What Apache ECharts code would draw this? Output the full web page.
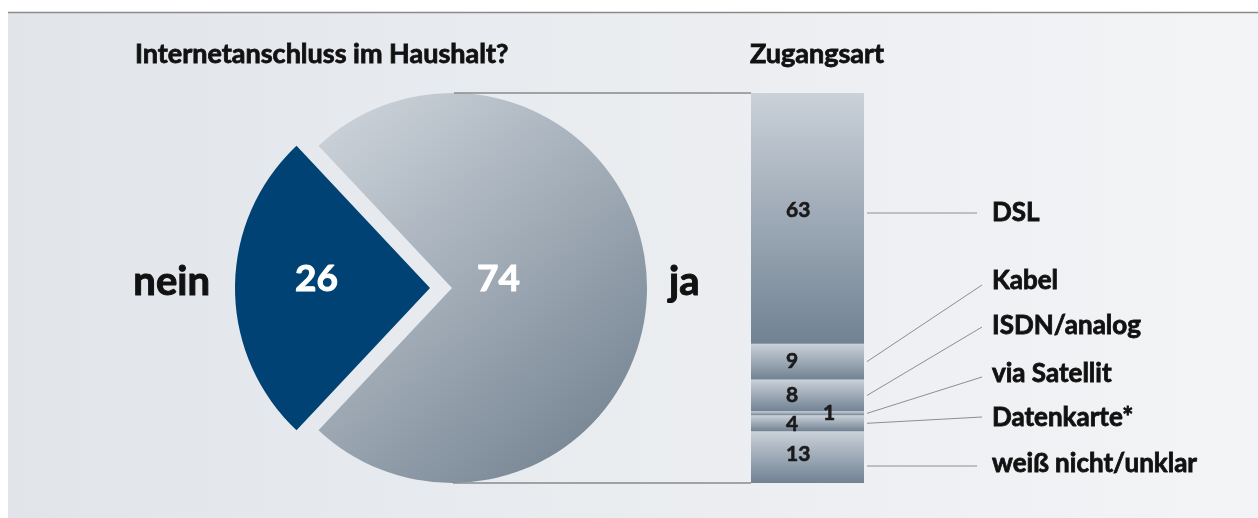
<!DOCTYPE html>
<html>
<head>
<meta charset="utf-8">
<script src="https://cdn.jsdelivr.net/npm/echarts@6/dist/echarts.min.js"></script>
<style>
  html, body { margin: 0; padding: 0; background: #fff; }
  #main { width: 1258px; height: 518px; }
</style>
</head>
<body>
<div id="main"></div>
<script type="text/javascript">

    // Daten (Prozent)
    var pieNames = ['ja', 'nein'];
    var pieValues = [74, 26];

    // Zugangsart, von oben nach unten
    var accessNames = ['DSL', 'Kabel', 'ISDN/analog', 'via Satellit', 'Datenkarte*', 'weiß nicht/unklar'];
    var accessValues = [63, 9, 8, 1, 4, 13];

    var titleLeft = 'Internetanschluss im Haushalt?';
    var titleRight = 'Zugangsart';

    // Layout
    var pieCenter = [452, 288];
    var pieRadius = 195;
    var nameX = 992;
    var nameY = [213, 281, 326, 374, 418, 464];
    var lineY = [213, 285, 327, 377, 417, 466];
    var flatLine = [true, false, false, false, false, true];
    var numOffset = [[0, -8], [0, 0], [0, 0], [37, 0], [0, 1], [0, -3]];
    var FONT = 'Lato';
    var INK = '#111';

    var myChart = echarts.init(document.getElementById('main'));

    var total = 0;
    for (var i = 0; i < accessValues.length; i++) total += accessValues[i];

    // Mitte jedes Segments (gestapelt von unten)
    function midOf(i) {
        var below = 0;
        for (var j = i + 1; j < accessValues.length; j++) below += accessValues[j];
        return below + accessValues[i] / 2;
    }

    function segGrad() {
        return new echarts.graphic.LinearGradient(0, 0, 0, 1, [
            {offset: 0, color: '#cad1d9'},
            {offset: 1, color: '#718293'}
        ]);
    }

    // Balken-Serien: unten zuerst
    var barSeries = [];
    for (var k = accessValues.length - 1; k >= 0; k--) {
        barSeries.push({
            type: 'bar',
            name: accessNames[k],
            stack: 'zugang',
            barWidth: '100%',
            data: [accessValues[k]],
            itemStyle: {color: segGrad()},
            label: {
                show: true,
                position: 'insideLeft',
                distance: 35,
                offset: numOffset[k],
                formatter: '{c}',
                color: '#1a1a1a',
                textBorderColor: '#1a1a1a',
                textBorderWidth: 0.6,
                fontFamily: FONT,
                fontWeight: 'bold',
                fontSize: 21
            },
            silent: true
        });
    }

    var pieStart = 180 - pieValues[1] / (pieValues[0] + pieValues[1]) * 180;

    var numLabelJa = {offset: [-54, -9]};
    var numLabelNein = {offset: [-13, -9]};
    var nameLabel = {offset: [0, -6]};

    var option = {
        animation: false,
        backgroundColor: '#fff',
        graphic: [
            {
                type: 'rect', z: -10,
                shape: {x: 8, y: 13, width: 1250, height: 505},
                style: {fill: new echarts.graphic.LinearGradient(0, 0, 1, 0, [
                    {offset: 0, color: '#e1e5ea'},
                    {offset: 1, color: '#f3f4f6'}
                ])}
            },
            {
                type: 'line', z: -9,
                shape: {x1: 8, y1: 12.5, x2: 1258, y2: 12.5},
                style: {stroke: '#8a8a8a', lineWidth: 1.5}
            },
            {
                type: 'text', x: 135, y: 54,
                style: {text: titleLeft, font: 'bold 27px ' + FONT, fill: INK, stroke: INK, lineWidth: 0.8,
                    verticalAlign: 'middle'}
            },
            {
                type: 'text', x: 750, y: 54,
                style: {text: titleRight, font: 'bold 27px ' + FONT, fill: INK, stroke: INK, lineWidth: 0.8,
                    verticalAlign: 'middle'}
            }
        ],
        grid: {left: 751, top: 93, width: 113, height: 390},
        xAxis: {type: 'category', data: [titleRight], show: false},
        yAxis: {type: 'value', min: 0, max: total, show: false},
        series: [
            {
                type: 'pie',
                center: pieCenter,
                radius: pieRadius,
                startAngle: pieStart,
                selectedMode: 'single',
                selectedOffset: 22,
                avoidLabelOverlap: false,
                silent: true,
                label: {
                    show: true,
                    position: 'inside',
                    formatter: '{c}',
                    color: '#fff',
                    textBorderColor: '#fff',
                    textBorderWidth: 1,
                    fontFamily: FONT,
                    fontWeight: 'bold',
                    fontSize: 37
                },
                data: [
                    {
                        name: pieNames[0], value: pieValues[0],
                        itemStyle: {color: new echarts.graphic.LinearGradient(0, 0, 1, 1, [
                            {offset: 0, color: '#d0d6dd'},
                            {offset: 1, color: '#6c7c8b'}
                        ])},
                        label: numLabelJa
                    },
                    {
                        name: pieNames[1], value: pieValues[1], selected: true,
                        itemStyle: {color: '#004274'},
                        label: numLabelNein,
                        select: {label: numLabelNein, itemStyle: {color: '#004274'}}
                    }
                ]
            },
            {
                // nur Beschriftung ja / nein
                type: 'pie',
                center: pieCenter,
                radius: pieRadius,
                startAngle: pieStart,
                selectedMode: 'single',
                selectedOffset: 22,
                avoidLabelOverlap: false,
                silent: true,
                itemStyle: {color: 'rgba(0,0,0,0)'},
                label: {
                    show: true,
                    position: 'outside',
                    formatter: '{b}',
                    color: INK,
                    textBorderColor: INK,
                    textBorderWidth: 1,
                    fontFamily: FONT,
                    fontWeight: 'bold',
                    fontSize: 40,
                    offset: [0, -6]
                },
                labelLine: {show: false, length: 0, length2: 17},
                data: [
                    {name: pieNames[0], value: pieValues[0]},
                    {name: pieNames[1], value: pieValues[1], selected: true,
                        labelLine: {show: false, length: 0, length2: 20},
                        select: {label: nameLabel, itemStyle: {color: 'rgba(0,0,0,0)'}}}
                ]
            }
        ].concat(barSeries).concat([
            {
                type: 'custom',
                coordinateSystem: 'cartesian2d',
                silent: true,
                clip: false,
                z: 5,
                data: accessNames.map(function (n, i) { return [0, midOf(i)]; }),
                renderItem: function (params, api) {
                    var i = params.dataIndex;
                    var p = api.coord([api.value(0), api.value(1)]);
                    var half = api.size([1, 0])[0] / 2;
                    var x0 = p[0] + half + 3;
                    var y0 = flatLine[i] ? lineY[i] : p[1];
                    var children = [
                        {
                            type: 'line',
                            shape: {x1: x0, y1: y0, x2: nameX - (flatLine[i] ? 15 : 10), y2: lineY[i]},
                            style: {stroke: '#8e8e8e', lineWidth: 1}
                        },
                        {
                            type: 'text', x: nameX, y: nameY[i],
                            style: {text: accessNames[i], font: 'bold 26px ' + FONT, fill: INK,
                                stroke: INK, lineWidth: 0.8, align: 'left', verticalAlign: 'middle'}
                        }
                    ];
                    if (i === 0) {
                        // Verbindung Kreis -> Balken
                        var top = api.coord([0, total]);
                        var bot = api.coord([0, 0]);
                        var left = p[0] - half;
                        children.push({type: 'line', shape: {x1: pieCenter[0] + 2, y1: top[1], x2: left, y2: top[1]},
                            style: {stroke: '#8a8a8a', lineWidth: 1.3}});
                        children.push({type: 'line', shape: {x1: pieCenter[0] + 1, y1: bot[1], x2: left, y2: bot[1]},
                            style: {stroke: '#8a8a8a', lineWidth: 1.3}});
                    }
                    return {type: 'group', children: children};
                }
            }
        ])
    };

    myChart.setOption(option);
</script>
</body>
</html>
